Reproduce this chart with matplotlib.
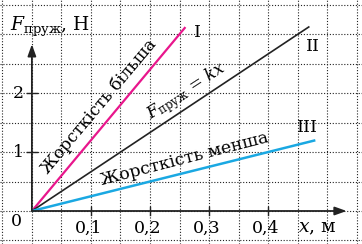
import matplotlib
matplotlib.use("Agg")
import matplotlib.pyplot as plt
import numpy as np

plt.rcParams['font.family'] = ['DejaVu Serif']
plt.rcParams['mathtext.fontset'] = 'dejavuserif'

# data
x_ticks = [0.1, 0.2, 0.3, 0.4]
x_tick_labels = ["0,1", "0,2", "0,3", "0,4"]
y_ticks = [1, 2]
y_tick_labels = ["1", "2"]
line_I_x = [0, 0.26]
line_I_y = [0, 3.12]
line_II_x = [0, 0.47]
line_II_y = [0, 3.13]
line_III_x = [0, 0.48]
line_III_y = [0, 1.2]

fig = plt.figure(figsize=(3.62, 2.44), dpi=100)
ax = fig.add_axes([0, 0, 1, 1])
ax.set_xlim(-0.054, 0.559)
ax.set_ylim(-0.56, 3.58)
for s in ax.spines.values():
    s.set_visible(False)
ax.set_xticks(np.arange(-0.05, 0.5501, 0.05))
ax.set_yticks(np.arange(-0.5, 3.501, 0.5))
ax.tick_params(length=0, labelbottom=False, labelleft=False)
ax.grid(True, color='#222222', linestyle=(0, (1, 1.6)), linewidth=0.8)

# axes with arrows
ax.annotate("", xy=(0.533, 0), xytext=(0, 0),
            arrowprops=dict(arrowstyle="-|>,head_length=0.7,head_width=0.25",
                            color='#222222', lw=1.3, shrinkA=0, shrinkB=0))
ax.annotate("", xy=(0, 2.83), xytext=(0, 0),
            arrowprops=dict(arrowstyle="-|>,head_length=0.7,head_width=0.25",
                            color='#222222', lw=1.3, shrinkA=0, shrinkB=0))
for xt, lab in zip(x_ticks, x_tick_labels):
    ax.plot([xt, xt], [-0.07, 0.07], color='#222222', lw=1.0)
    ax.text(xt - 0.004, -0.29, lab, ha='center', va='center', fontsize=12.5)
for yt, lab in zip(y_ticks, y_tick_labels):
    ax.plot([-0.008, 0.008], [yt, yt], color='#222222', lw=1.0)
    ax.text(-0.014, yt, lab, ha='right', va='center', fontsize=12.5)
ax.text(-0.027, -0.17, "0", ha='center', va='center', fontsize=12.5)

# lines
ax.plot(line_I_x, line_I_y, color='#e8168c', lw=1.6, solid_capstyle='butt')
ax.plot(line_II_x, line_II_y, color='#222222', lw=1.2, solid_capstyle='butt')
ax.plot(line_III_x, line_III_y, color='#1aa8e2', lw=1.8, solid_capstyle='butt')

# annotations
ax.text(0.113, 1.78, "Жорсткість більша", rotation=50, ha='center', va='center',
        fontsize=12.2, rotation_mode='anchor')
ax.text(0.262, 2.03, r"$F_{\mathrm{пруж}}$ = $kx$", rotation=33, ha='center', va='center',
        fontsize=12, rotation_mode='anchor')
ax.text(0.259, 0.88, "Жорсткість менша", rotation=14.5, ha='center', va='center',
        fontsize=12.5, rotation_mode='anchor')
ax.text(0.28, 3.03, "I", ha='center', va='center', fontsize=12.5)
ax.text(0.476, 2.79, "II", ha='center', va='center', fontsize=12.5)
ax.text(0.466, 1.41, "III", ha='center', va='center', fontsize=12.5)
ax.text(-0.037, 3.12, r"$F_{\mathrm{пруж}}$, Н", ha='left', va='center', fontsize=13.5)
ax.text(0.483, -0.29, r"$x$, м", ha='center', va='center', fontsize=13.5)

fig.savefig("out.png", dpi=100)
